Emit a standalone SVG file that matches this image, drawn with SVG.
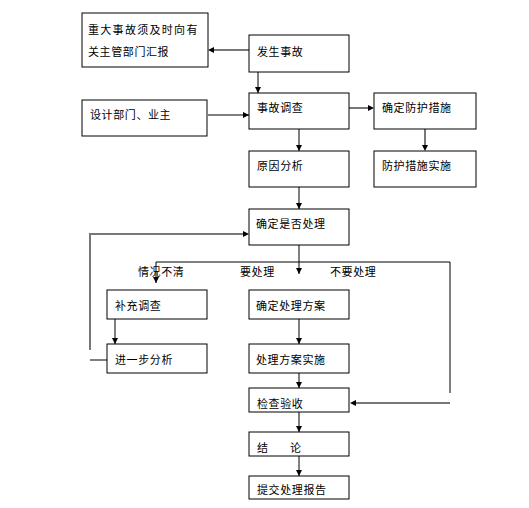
<svg xmlns="http://www.w3.org/2000/svg" width="529" height="508" viewBox="0 0 529 508">
<style>
.box{fill:#fff;stroke:#000;stroke-width:1}
.t{font-family:"Liberation Sans","Noto Sans CJK SC",sans-serif;font-size:11px;fill:#000;letter-spacing:0.6px}
.k{fill:none;stroke:#000;stroke-width:1}
.g{fill:none;stroke:#777;stroke-width:2}
</style>
<defs>
<marker id="a" markerWidth="6" markerHeight="6" refX="6" refY="3" orient="auto" markerUnits="userSpaceOnUse"><path d="M0,0 L6,3 L0,6 Z" fill="#000"/></marker>
</defs>
<rect width="529" height="508" fill="#fff"/>
<g id="connectors">
<line class="g" x1="249" y1="50" x2="214" y2="50"/><path d="M208,50 L214,47 L214,53 Z" fill="#000"/>
<line class="k" x1="258" y1="72" x2="258" y2="93" marker-end="url(#a)"/>
<line class="k" x1="208" y1="115" x2="249" y2="115" marker-end="url(#a)"/>
<line class="g" x1="349" y1="108" x2="368" y2="108"/><path d="M374,108 L368,105 L368,111 Z" fill="#000"/>
<line class="g" x1="425" y1="129" x2="425" y2="145"/><path d="M425,151 L422,145 L428,145 Z" fill="#000"/>
<line class="k" x1="299" y1="129" x2="299" y2="151" marker-end="url(#a)"/>
<line class="k" x1="299" y1="187" x2="299" y2="209" marker-end="url(#a)"/>
<line class="k" x1="299" y1="245" x2="299" y2="274" marker-end="url(#a)"/>
<polyline class="k" points="450,393 450,262 156,262 156,283" marker-end="url(#a)"/>
<polyline class="g" points="90,350 90,234 243,234"/><path d="M249,234 L243,231 L243,237 Z" fill="#000"/>
<line class="k" x1="90" y1="360" x2="107" y2="360"/>
<line class="k" x1="115" y1="319" x2="115" y2="344" marker-end="url(#a)"/>
<line class="k" x1="299" y1="319" x2="299" y2="344" marker-end="url(#a)"/>
<line class="k" x1="299" y1="373" x2="299" y2="388" marker-end="url(#a)"/>
<line class="g" x1="450" y1="403" x2="356" y2="403"/><path d="M350,403 L356,400 L356,406 Z" fill="#000"/>
<line class="k" x1="299" y1="412" x2="299" y2="432" marker-end="url(#a)"/>
<line class="k" x1="299" y1="456" x2="299" y2="476" marker-end="url(#a)"/>
</g>
<g id="labels">
<text class="t" x="138" y="276">情况不清</text>
<text class="t" x="240" y="276">要处理</text>
<text class="t" x="330" y="276">不要处理</text>
</g>
<g id="n1"><rect class="box" x="82" y="13" width="126" height="54"/><text class="t" x="88" y="34" style="letter-spacing:1.3px">重大事故须及时向有</text><text class="t" x="88" y="56">关主管部门汇报</text></g>
<g id="n2"><rect class="box" x="249" y="35" width="100" height="37"/><text class="t" x="257" y="56">发生事故</text></g>
<g id="n3"><rect class="box" x="82" y="100" width="125" height="36"/><text class="t" x="90" y="119">设计部门、业主</text></g>
<g id="n4"><rect class="box" x="249" y="93" width="100" height="36"/><text class="t" x="257" y="112">事故调查</text></g>
<g id="n5"><rect class="box" x="374" y="93" width="102" height="36"/><text class="t" x="382" y="112">确定防护措施</text></g>
<g id="n6"><rect class="box" x="249" y="151" width="100" height="36"/><text class="t" x="257" y="170">原因分析</text></g>
<g id="n7"><rect class="box" x="374" y="151" width="102" height="36"/><text class="t" x="382" y="170">防护措施实施</text></g>
<g id="n8"><rect class="box" x="249" y="209" width="100" height="36"/><text class="t" x="256" y="228">确定是否处理</text></g>
<g id="n9"><rect class="box" x="107" y="290" width="100" height="29"/><text class="t" x="115" y="310">补充调查</text></g>
<g id="n10"><rect class="box" x="107" y="344" width="100" height="29"/><text class="t" x="115" y="364">进一步分析</text></g>
<g id="n11"><rect class="box" x="249" y="290" width="100" height="29"/><text class="t" x="256" y="310">确定处理方案</text></g>
<g id="n12"><rect class="box" x="249" y="344" width="100" height="29"/><text class="t" x="256" y="364">处理方案实施</text></g>
<g id="n13"><rect class="box" x="249" y="388" width="100" height="24"/><text class="t" x="257" y="408">检查验收</text></g>
<g id="n14"><rect class="box" x="249" y="432" width="100" height="24"/><text class="t" x="257" y="452">结</text><text class="t" x="290" y="452">论</text></g>
<g id="n15"><rect class="box" x="249" y="476" width="100" height="23"/><text class="t" x="257" y="494">提交处理报告</text></g>
</svg>
